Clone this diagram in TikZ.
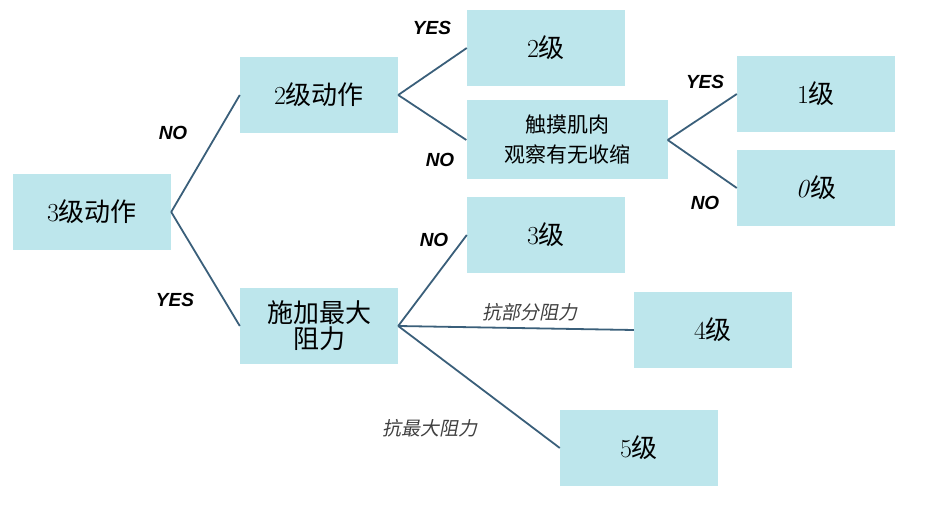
\documentclass[tikz,border=0pt]{standalone}
\usepackage{fontspec}
\newfontfamily\cjk{Noto Sans CJK SC}
\newfontfamily\cjkit[FakeSlant=0.2]{Noto Sans CJK SC}
\newfontfamily\lab{Liberation Sans}
\definecolor{boxc}{HTML}{BDE6EC}
\definecolor{linec}{HTML}{3A5F7A}
\begin{document}
\begin{tikzpicture}[x=1pt,y=-1pt,
  bx/.style={fill=boxc,minimum width=158pt,minimum height=76pt,inner sep=2pt,align=center,font=\fontsize{26}{30}\selectfont},
  ln/.style={draw=linec,line width=1.8pt},
  yn/.style={font=\lab\bfseries\itshape\fontsize{19}{22}\selectfont},
  it/.style={font=\cjkit\fontsize{19}{22}\selectfont,text=black!75}]
\useasboundingbox (0,0) rectangle (928,526);
\node[bx] (a) at (92,212) {3{\cjk 级动作}};
\node[bx] (b) at (319,95) {2{\cjk 级动作}};
\node[bx] (c) at (319,326) {\cjk 施加最大\\[-4pt]\cjk 阻力};
\node[bx] (d) at (546,48) {2{\cjk 级}};
\node[bx,minimum width=201pt,minimum height=79pt,font=\cjk\fontsize{21}{30}\selectfont] (e) at (567,140) {触摸肌肉\\观察有无收缩};
\node[bx] (f) at (816,94) {1{\cjk 级}};
\node[bx] (g) at (816,188) {\textit{0}{\cjk 级}};
\node[bx] (h) at (546,235) {3{\cjk 级}};
\node[bx] (i) at (713,330) {4{\cjk 级}};
\node[bx] (j) at (639,448) {5{\cjk 级}};
\draw[ln] (a.east) -- (b.west);
\draw[ln] (a.east) -- (c.west);
\draw[ln] (b.east) -- (d.west);
\draw[ln] (b.east) -- (e.west);
\draw[ln] (e.east) -- (f.west);
\draw[ln] (e.east) -- (g.west);
\draw[ln] (c.east) -- (h.west);
\draw[ln] (c.east) -- (i.west);
\draw[ln] (c.east) -- (j.west);
\node[yn] (l1) at (173,133) {NO};
\node[yn] (l2) at (175,300) {YES};
\node[yn] (l3) at (432,28) {YES};
\node[yn] (l4) at (440,160) {NO};
\node[yn] (l5) at (705,82) {YES};
\node[yn] (l6) at (705,203) {NO};
\node[yn] (l7) at (434,240) {NO};
\node[it] (l8) at (530,312) {抗部分阻力};
\node[it] (l9) at (430,428) {抗最大阻力};
\end{tikzpicture}
\end{document}
